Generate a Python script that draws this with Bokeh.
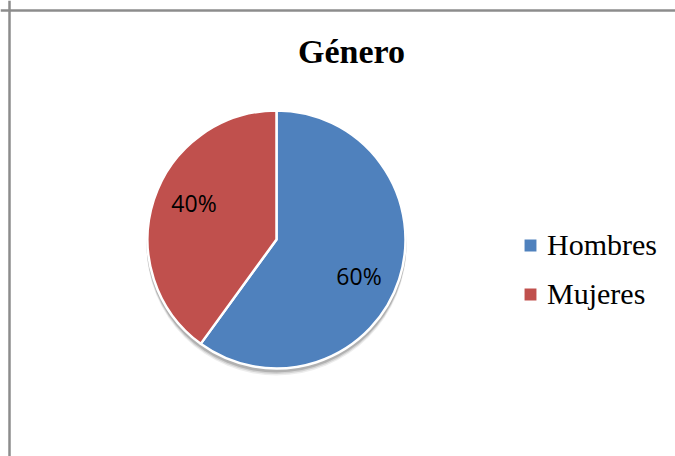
import math
from bokeh.plotting import figure
from bokeh.models import ColumnDataSource, Range1d, Label, Span
from bokeh.core.properties import value
from bokeh.embed import file_html
from bokeh.resources import INLINE

# ---- data ----
title_text = "Género"
categories = ["Hombres", "Mujeres"]
values = [60, 40]
colors = ["#4F81BD", "#C0504D"]

W, H = 675, 456
cx, cy, r = 276, 456 - 239, 129

total = sum(values)
ends, starts, mids, labels = [], [], [], []
cur = math.pi / 2
for v in values:
    a = 2 * math.pi * v / total
    ends.append(cur)
    starts.append(cur - a)
    mids.append(cur - a / 2)
    labels.append(f"{round(100 * v / total)}%")
    cur -= a

lab_off = math.radians(-6)
lab_r = 0.70 * r
lx = [cx + lab_r * math.cos(m + lab_off) for m in mids]
ly = [cy + lab_r * math.sin(m + lab_off) for m in mids]

src = ColumnDataSource(dict(cat=categories, val=values, color=colors,
                            start=starts, end=ends, lx=lx, ly=ly, lab=labels))

p = figure(width=W, height=H, output_backend="svg", toolbar_location=None,
           x_range=Range1d(0, W), y_range=Range1d(0, H), min_border=0,
           outline_line_color=None)
p.axis.visible = False
p.grid.visible = False
p.background_fill_color = "white"
p.border_fill_color = "white"

# chart area border (left and top)
p.add_layout(Span(location=9, dimension="height", line_color="#8C8C8C", line_width=2.5))
p.add_layout(Span(location=H - 10, dimension="width", line_color="#8C8C8C", line_width=2.5))

# soft shadow
for off, alpha in [(6, 0.07), (4.5, 0.11), (3, 0.16)]:
    p.circle(x=[cx], y=[cy - off], radius=r + 1, fill_color="#000000",
             fill_alpha=alpha, line_color=None)

p.wedge(x=cx, y=cy, radius=r, start_angle="start", end_angle="end",
        direction="anticlock", fill_color="color", line_color="white",
        line_width=2.5, legend_field="cat", source=src)

p.text(x="lx", y="ly", text="lab", source=src, text_align="center",
       text_baseline="middle", text_font=value("Open Sans"),
       text_font_size="23px", text_color="#000000")

p.add_layout(Label(x=351, y=H - 51, text=title_text, text_align="center",
                   text_baseline="alphabetic", text_font="Liberation Serif",
                   text_font_style="bold", text_font_size="34px",
                   text_color="#000000"))

lg = p.legend[0]
lg.location = (521, H - 311)
lg.border_line_color = None
lg.background_fill_alpha = 0
lg.padding = 0
lg.margin = 0
lg.glyph_width = 18
lg.glyph_height = 18
lg.label_standoff = 8
lg.spacing = 15
lg.label_text_font = "Liberation Serif"
lg.label_text_font_size = "30px"
lg.label_text_color = "#000000"

open("out.html", "w").write(file_html(p, INLINE))
